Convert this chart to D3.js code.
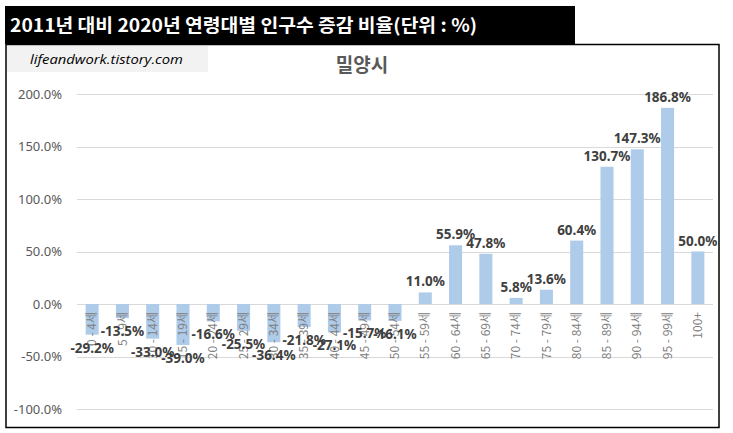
<!DOCTYPE html>
<html>
<head>
<meta charset="utf-8">
<script src="https://cdn.jsdelivr.net/npm/d3@7"></script>
<style>
  body { margin: 0; background: #fff; }
  svg { display: block; }
</style>
</head>
<body>
<svg id="chart"></svg>
<script>
// age groups and change rate 2011 -> 2020 (%)
const ageGroups = ['0 - 4세', '5 - 9세', '10 - 14세', '15 - 19세', '20 - 24세', '25 - 29세', '30 - 34세',
  '35 - 39세', '40 - 44세', '45 - 49세', '50 - 54세', '55 - 59세', '60 - 64세', '65 - 69세',
  '70 - 74세', '75 - 79세', '80 - 84세', '85 - 89세', '90 - 94세', '95 - 99세', '100+']
const changeRates = [-29.2, -13.5, -33.0, -39.0, -16.6, -25.5, -36.4, -21.8, -27.1, -15.7, -16.1,
  11.0, 55.9, 47.8, 5.8, 13.6, 60.4, 130.7, 147.3, 186.8, 50.0]
const yTicks = [-100, -50, 0, 50, 100, 150, 200]

const mainTitle = '2011년 대비 2020년 연령대별 인구수 증감 비율(단위 : %)'
const chartTitle = '밀양시'
const watermark = 'lifeandwork.tistory.com'

const svgWidth = 733
const svgHeight = 433
const KR = '"Noto Sans CJK KR", "Noto Sans", sans-serif'

// plain hyphen for negatives, like the excel chart
const pct = d3.formatLocale({ decimal: '.', thousands: ',', grouping: [3], currency: ['', ''], minus: '-' })
  .format('.1f')
const fmtPct = (d) => pct(d) + '%'

const svg = d3.select('#chart').attr('width', svgWidth).attr('height', svgHeight)

// outer frame of the chart
svg.append('rect')
  .attr('x', 6).attr('y', 44.5)
  .attr('width', 713).attr('height', 383)
  .attr('fill', '#fff').attr('stroke', '#000').attr('stroke-width', 1.5)

// black title bar
svg.append('rect')
  .attr('x', 5).attr('y', 6)
  .attr('width', 570).attr('height', 38)
  .attr('fill', '#000')

svg.append('text')
  .attr('x', 10).attr('y', 32)
  .attr('fill', '#fff')
  .attr('font-family', KR)
  .attr('font-weight', 'bold')
  .attr('font-size', 18)
  .attr('textLength', 467)
  .attr('lengthAdjust', 'spacingAndGlyphs')
  .text(mainTitle)

// watermark box
svg.append('rect')
  .attr('x', 7).attr('y', 46)
  .attr('width', 201).attr('height', 26)
  .attr('fill', '#f2f2f2')

svg.append('text')
  .attr('x', 30).attr('y', 64)
  .attr('fill', '#000')
  .attr('font-family', '"Open Sans", "Noto Sans", sans-serif')
  .attr('font-style', 'italic')
  .attr('font-size', 13.5)
  .attr('textLength', 153)
  .attr('lengthAdjust', 'spacingAndGlyphs')
  .text(watermark)

svg.append('text')
  .attr('x', 362).attr('y', 72)
  .attr('text-anchor', 'middle')
  .attr('fill', '#595959')
  .attr('font-family', KR)
  .attr('font-weight', 'bold')
  .attr('font-size', 19)
  .text(chartTitle)

// scales
const x = d3.scaleBand().domain(ageGroups).range([77, 713]).paddingInner(0.57).paddingOuter(0.285)
const y = d3.scaleLinear().domain([-100, 200]).range([409, 94])

// gridlines
svg.append('g')
  .selectAll('line')
  .data(yTicks)
  .join('line')
  .attr('x1', 77).attr('x2', 713)
  .attr('y1', (d) => Math.round(y(d)) + 0.5)
  .attr('y2', (d) => Math.round(y(d)) + 0.5)
  .attr('stroke', '#d9d9d9')
  .attr('stroke-width', 1)

// y axis labels
const yAxis = d3.axisLeft(y)
  .tickValues(yTicks)
  .tickSize(0)
  .tickPadding(0)
  .tickFormat(fmtPct)

svg.append('g')
  .attr('transform', 'translate(62,0)')
  .call(yAxis)
  .call((g) => g.select('.domain').remove())
  .selectAll('text')
  .attr('fill', '#595959')
  .attr('font-family', '"Noto Sans", sans-serif')
  .attr('font-size', 13)

// bars
svg.append('g')
  .selectAll('rect')
  .data(changeRates)
  .join('rect')
  .attr('x', (d, i) => x(ageGroups[i]))
  .attr('width', x.bandwidth())
  .attr('y', (d) => y(Math.max(0, d)))
  .attr('height', (d) => Math.abs(y(d) - y(0)))
  .attr('fill', '#aecbea')

// category labels, rotated, starting just under the zero line
const xAxis = d3.axisBottom(x).tickSize(0).tickPadding(0)

svg.append('g')
  .attr('transform', `translate(0,${y(0)})`)
  .call(xAxis)
  .call((g) => g.select('.domain').remove())
  .selectAll('text')
  .attr('transform', 'rotate(-90)')
  .attr('x', -8)
  .attr('y', 0)
  .attr('dy', '0.35em')
  .attr('text-anchor', 'end')
  .attr('fill', '#808080')
  .attr('font-family', KR)
  .attr('font-size', 12)

// data labels
svg.append('g')
  .selectAll('text')
  .data(changeRates)
  .join('text')
  .attr('x', (d, i) => x(ageGroups[i]) + x.bandwidth() / 2)
  .attr('y', (d) => (d >= 0 ? y(d) - 6 : y(d) + 18))
  .attr('text-anchor', 'middle')
  .attr('fill', '#404040')
  .attr('font-family', '"Noto Sans", sans-serif')
  .attr('font-weight', 'bold')
  .attr('font-size', 13.5)
  .text(fmtPct)
</script>
</body>
</html>
